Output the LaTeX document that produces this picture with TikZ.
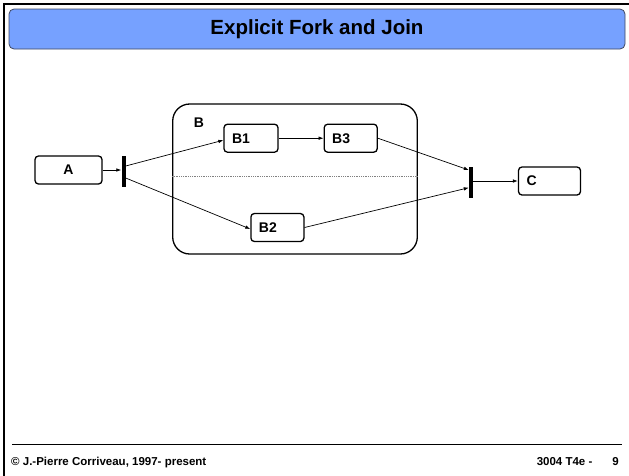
\documentclass[tikz,border=0pt]{standalone}
\usepackage{fontspec}
\setmainfont{Liberation Sans}
\usetikzlibrary{arrows.meta}
\definecolor{titleblue}{RGB}{118,161,255}
\definecolor{titleedge}{RGB}{64,72,96}
\begin{document}
\begin{tikzpicture}[x=1pt,y=-1pt,
  statebox/.style={draw, line width=1.3pt, rounded corners=3.5pt, minimum height=28pt,
    inner xsep=8pt, inner ysep=0pt, align=left, fill=white,
    font=\bfseries\fontsize{14}{14}\selectfont},
  superstate/.style={draw, line width=1.3pt, rounded corners=17pt, inner sep=0pt},
  bar/.style={fill=black, inner sep=0pt, minimum width=4pt, minimum height=31pt},
  trans/.style={line width=0.7pt, -{Latex[length=5pt,width=3.6pt]}},
  footer/.style={font=\bfseries\fontsize{11.5}{11.5}\selectfont, inner sep=0pt}]
\useasboundingbox (0,0) rectangle (629,475);

% page frame and title bar
\draw[line width=2pt] (4,476) -- (4,4) -- (630,4);
\node (title) [draw=titleedge, fill=titleblue, line width=0.8pt, rounded corners=5pt,
  minimum width=616pt, minimum height=40pt, inner sep=0pt,
  font=\bfseries\fontsize{20.5}{20.5}\selectfont] at (317,29) {Explicit Fork and Join};

% composite state B with its two regions
\node (B) [superstate, minimum width=244.6pt, minimum height=150pt] at (295,179) {};
\node (Blabel) [font=\bfseries\fontsize{14}{14}\selectfont, inner sep=0pt] at (199,122.5) {B};
\draw[gray, line width=0.8pt, densely dotted] ([yshift=2.3pt]B.west) -- ([yshift=2.3pt]B.east);

% simple states
\node (A)  [statebox, text width=51pt, align=center] at (68.5,170) {A};
\node (B1) [statebox, text width=38pt] at (251,138.2) {B1};
\node (B3) [statebox, text width=37pt] at (350.7,138.2) {B3};
\node (B2) [statebox, text width=37pt] at (277.4,227.5) {B2};
\node (C)  [statebox, text width=46pt] at (549.5,181) {C};

% fork and join pseudostates
\node (fork) [bar] at (123.5,171.5) {};
\node (join) [bar] at (471,182) {};

% transitions
\draw[trans] (A.east) -- (A.east -| fork.west);
\draw[trans] ([yshift=5.5pt]fork.east) -- ([yshift=-2pt]B1.west);
\draw[trans] ([yshift=-6.5pt]fork.east) -- ([yshift=-1.5pt]B2.west);
\draw[trans] (B1.east) -- (B3.west);
\draw[trans] (B3.east) -- ([yshift=12pt]join.west);
\draw[trans] (B2.east) -- ([yshift=-5.7pt]join.west);
\draw[trans] (C.west -| join.east) -- (C.west);

% footer
\draw[line width=0.9pt] (12,444) coordinate (rulel) -- (622,444) coordinate (ruler);
\node (copy) [footer, anchor=base west] at (11,465) {© J.-Pierre Corriveau, 1997- present};
\node (page) [footer, anchor=base east] at (619,465) {3004 T4e -\hspace{20pt}9};
\end{tikzpicture}
\end{document}
